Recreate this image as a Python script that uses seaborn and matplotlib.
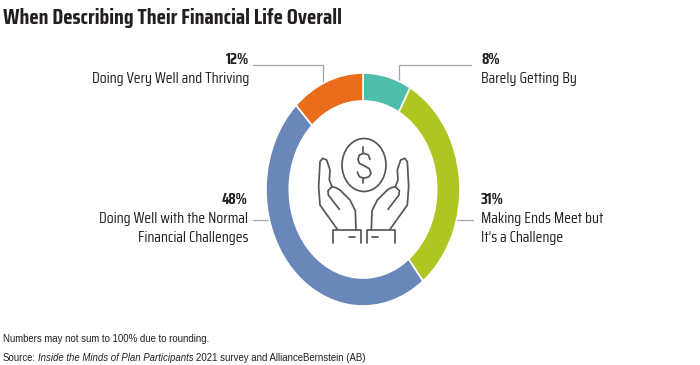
import matplotlib
matplotlib.use("Agg")
import matplotlib.pyplot as plt
from matplotlib import font_manager as fm
from matplotlib.patches import Ellipse
import seaborn as sns

title = "When Describing Their Financial Life Overall"
shares = [8, 31, 48, 12]
percent_labels = ["8%", "31%", "48%", "12%"]
colors = ["#4FBDAC", "#AFC521", "#6A87B9", "#EA6D1B"]
note = "Numbers may not sum to 100% due to rounding."

sns.set_theme(style="white")
have = {f.name for f in fm.fontManager.ttflist}
if "Saira Condensed" in have:
    plt.rcParams["font.family"] = ["Saira Condensed", "DejaVu Sans"]
    SIZE, TITLE_SIZE = 11.2, 15.75
else:
    plt.rcParams["font.family"] = ["Roboto", "DejaVu Sans"]
    SIZE, TITLE_SIZE = 8.9, 12.4
INK = "#231F20"
LINE = "#A3A5A8"
ICON = "#55565A"

W, H = 700, 365
fig = plt.figure(figsize=(W / 100, H / 100), dpi=100, facecolor="white")

# Overlay in pixel coordinates (text, leaders, icon)
ov = fig.add_axes([0, 0, 1, 1], zorder=1)
ov.set_xlim(0, W)
ov.set_ylim(H, 0)
ov.axis("off")

# Donut, stretched vertically as in the reference
cx, cy, rx, ry = 363, 189.5, 97, 116.5
ax = fig.add_axes([(cx - rx) / W, 1 - (cy + ry) / H, 2 * rx / W, 2 * ry / H], zorder=2)
ax.patch.set_alpha(0)
ax.pie(shares, colors=colors, startangle=90, counterclock=False, radius=1,
       wedgeprops=dict(width=0.24, edgecolor="white", linewidth=1.2))
ax.set_xlim(-1, 1)
ax.set_ylim(-1, 1)
ax.set_aspect("auto")

# Leaders
for xs, ys in [((253, 323, 323), (65, 65, 84)),
               ((471, 399, 399), (65, 65, 82)),
               ((253, 270), (219.5, 219.5)),
               ((455, 473), (219.5, 219.5))]:
    ov.plot(xs, ys, color=LINE, lw=0.9, solid_joinstyle="miter")

# Text
T = dict(color=INK, va="center")
ov.text(3, 18, title, fontsize=TITLE_SIZE, fontweight="bold", ha="left", **T)
ov.text(249, 60, percent_labels[3], fontsize=SIZE, fontweight="bold", ha="right", **T)
ov.text(249, 79, "Doing Very Well and Thriving", fontsize=SIZE, ha="right", **T)
ov.text(481, 60, percent_labels[0], fontsize=SIZE, fontweight="bold", ha="left", **T)
ov.text(481, 79, "Barely Getting By", fontsize=SIZE, ha="left", **T)
ov.text(481, 200, percent_labels[1], fontsize=SIZE, fontweight="bold", ha="left", **T)
ov.text(481, 219, "Making Ends Meet but", fontsize=SIZE, ha="left", **T)
ov.text(481, 238, "It's a Challenge", fontsize=SIZE, ha="left", **T)
ov.text(248, 200, percent_labels[2], fontsize=SIZE, fontweight="bold", ha="right", **T)
ov.text(248, 219, "Doing Well with the Normal", fontsize=SIZE, ha="right", **T)
ov.text(248, 238, "Financial Challenges", fontsize=SIZE, ha="right", **T)

F = ["Liberation Sans", "DejaVu Sans"]
FS = 6.9
ov.text(3, 339, note, fontsize=FS, family=F, color=INK, va="center")
x0 = ov.text(3, 358, "Source:", fontsize=FS, family=F, color=INK, va="center")
fig.canvas.draw()
r = fig.canvas.get_renderer()
x = x0.get_window_extent(r).x1 + 2.2
x1 = ov.text(x, 358, "Inside the Minds of Plan Participants", fontsize=FS, family=F,
             style="italic", color=INK, va="center")
x = x1.get_window_extent(r).x1 + 2.2
ov.text(x, 358, "2021 survey and AllianceBernstein (AB)", fontsize=FS, family=F,
        color=INK, va="center")

# Icon, sketched in 3x crop units
def P(u, v):
    return 300 + u / 3, 120 + v / 3

def stroke(points, lw=1.25):
    ov.plot(*zip(*[P(*p) for p in points]), color=ICON, lw=lw,
            solid_joinstyle="round", solid_capstyle="round")

ov.add_patch(Ellipse((364, 165), 44, 53, fill=False, ec=ICON, lw=1.25))
stroke([(210, 118), (205, 105), (192, 100), (178, 105), (174, 118), (178, 130), (192, 137),
        (208, 146), (213, 160), (207, 170), (192, 175), (178, 170), (172, 156)])
stroke([(190, 82), (190, 100)])
stroke([(190, 175), (190, 190)])

hand = [(112, 328), (60, 255), (56, 200), (60, 125), (68, 115), (80, 120), (90, 150),
        (88, 180), (96, 200), (108, 203), (120, 210), (150, 240), (166, 272), (168, 330)]
finger = [(118, 268), (85, 225), (84, 212), (96, 200)]
cuff = [(98, 368), (98, 330), (182, 330), (182, 368)]
dash = [(148, 352), (165, 352)]
for shape in (hand, finger, cuff, dash):
    stroke(shape)
    stroke([(382 - u, v) for u, v in shape])

fig.savefig("out.png", dpi=100, facecolor="white")
